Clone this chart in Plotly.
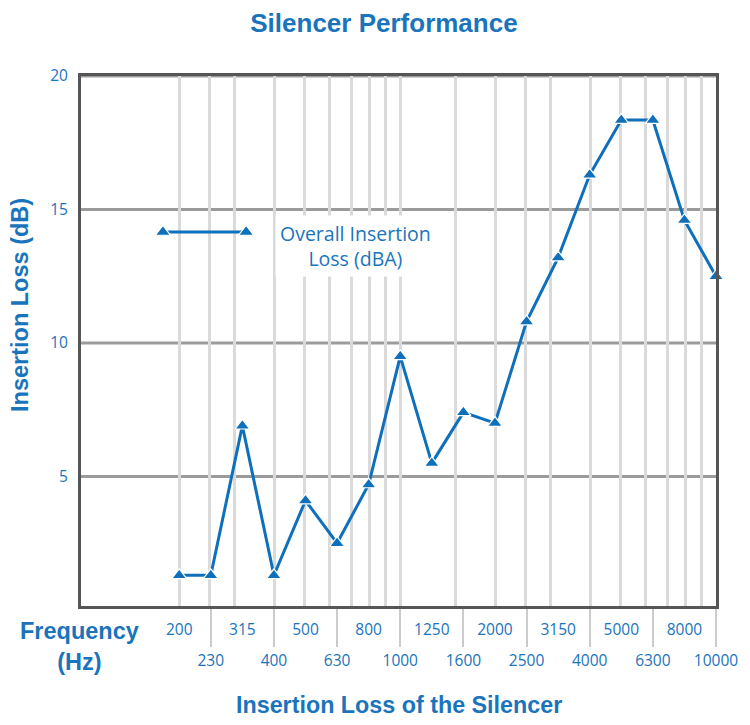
import math
import plotly.graph_objects as go

# ---- data ----
freq_labels = ["200", "230", "315", "400", "500", "630", "800", "1000", "1250",
               "1600", "2000", "2500", "3150", "4000", "5000", "6300", "8000", "10000"]
insertion_loss = [1.3, 1.3, 6.9, 1.3, 4.1, 2.5, 4.7, 9.5, 5.5,
                  7.4, 7.0, 10.8, 13.2, 16.3, 18.35, 18.35, 14.6, 12.5]
y_ticks = [5, 10, 15, 20]
grid_freqs = [200, 250, 300, 400, 500, 600, 700, 800, 900, 1000,
              1500, 2000, 2500, 3000, 4000, 5000, 6000, 7000, 8000, 9000]

BLUE = "#1a74bc"
LINE = "#0e70bb"
BOLD = "Liberation Sans"
REG = "Open Sans"

idx = list(range(len(freq_labels)))
row1 = idx[0::2]
row2 = idx[1::2]

XR = [-3.11, len(freq_labels) - 1]
dec_per_idx = (math.log10(10000) - math.log10(200)) / (len(freq_labels) - 1)
LOGR = [math.log10(200) + XR[0] * dec_per_idx, math.log10(200) + XR[1] * dec_per_idx]

MARKER = dict(symbol="triangle-up", size=13, color=LINE,
              line=dict(color="white", width=1.2))

fig = go.Figure()

# empty traces so the overlay axes get drawn
fig.add_trace(go.Scatter(x=[], y=[], xaxis="x3", yaxis="y", showlegend=False))
fig.add_trace(go.Scatter(x=[], y=[], xaxis="x2", yaxis="y", showlegend=False))

fig.add_trace(go.Scatter(
    x=idx, y=insertion_loss, mode="lines+markers",
    line=dict(color=LINE, width=3), marker=MARKER,
    cliponaxis=False, showlegend=False, hoverinfo="skip"))

# legend key (drawn in a 0..1 overlay frame)
fig.add_trace(go.Scatter(
    x=[0.129, 0.260], y=[0.7057, 0.7057], mode="lines+markers",
    xaxis="x4", yaxis="y4",
    line=dict(color=LINE, width=3), marker=MARKER,
    cliponaxis=False, showlegend=False, hoverinfo="skip"))

fig.update_layout(
    width=742, height=717,
    margin=dict(l=73, r=34, t=68, b=119),
    paper_bgcolor="white", plot_bgcolor="white",
    font=dict(family=REG, color=BLUE),
    title=dict(text="<b>Silencer Performance</b>", x=0.5067, xref="container",
               xanchor="center", y=0.9798, yanchor="middle",
               font=dict(family=BOLD, size=26, color=BLUE)),
    xaxis=dict(range=XR, showgrid=False, zeroline=False,
               showline=True, mirror=True, linecolor="#555555", linewidth=3,
               tickmode="array", tickvals=row2,
               ticktext=[freq_labels[i] for i in row2],
               ticks="outside", ticklen=38, tickwidth=2, tickcolor="#cccccc",
               tickfont=dict(family=REG, size=15.5, color=BLUE)),
    xaxis2=dict(range=XR, overlaying="x", anchor="y", side="bottom",
                showgrid=False, zeroline=False, showline=False,
                tickmode="array", tickvals=row1,
                ticktext=[freq_labels[i] for i in row1],
                ticks="outside", ticklen=9, tickcolor="rgba(0,0,0,0)",
                tickfont=dict(family=REG, size=15.5, color=BLUE)),
    xaxis3=dict(type="log", range=LOGR, overlaying="x", anchor="y",
                showgrid=True, gridcolor="#dadada", gridwidth=3,
                tickmode="array", tickvals=grid_freqs, showticklabels=False,
                ticks="", zeroline=False, showline=False),
    xaxis4=dict(range=[0, 1], overlaying="x", anchor="y4", visible=False),
    yaxis=dict(range=[0.15, 20], showgrid=False,
               zeroline=False, showline=True, mirror=True,
               linecolor="#555555", linewidth=3,
               tickmode="array", tickvals=y_ticks,
               ticks="outside", ticklen=7, tickcolor="rgba(0,0,0,0)",
               tickfont=dict(family=REG, size=15.5, color=BLUE)),
    yaxis4=dict(range=[0, 1], overlaying="y", anchor="x4", visible=False),
)

# horizontal grid lines at the y ticks, drawn above the vertical grid
for v in y_ticks:
    fig.add_shape(type="line", xref="paper", x0=0, x1=1, yref="y", y0=v, y1=v,
                  layer="between", line=dict(color="#9b9b9b", width=3))

fig.add_annotation(text="<b>Insertion Loss (dB)</b>", textangle=-90,
                   xref="paper", yref="paper", x=-0.096, y=0.568,
                   xanchor="center", yanchor="middle", showarrow=False,
                   font=dict(family=BOLD, size=23.5, color=BLUE))
fig.add_annotation(text="<b>Frequency</b><br><b>(Hz)</b>",
                   xref="paper", yref="paper", x=-0.003, y=-0.077,
                   xanchor="center", yanchor="middle", showarrow=False,
                   font=dict(family=BOLD, size=23.5, color=BLUE))
fig.add_annotation(text="<b>Insertion Loss of the Silencer</b>",
                   xref="paper", yref="paper", x=0.5008, y=-0.187,
                   xanchor="center", yanchor="middle", showarrow=False,
                   font=dict(family=BOLD, size=23.3, color=BLUE))
fig.add_annotation(text="Overall Insertion<br>Loss (dBA)",
                   xref="paper", yref="paper", x=0.4315, y=0.680,
                   xanchor="center", yanchor="middle", showarrow=False,
                   bgcolor="white", borderpad=4,
                   font=dict(family=REG, size=19.5, color=BLUE))

fig.write_html("out.html")
